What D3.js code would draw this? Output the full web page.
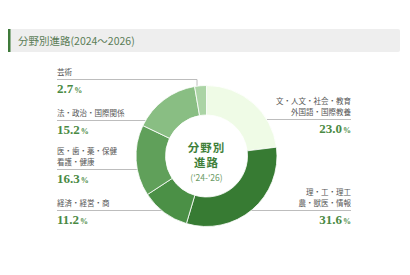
<!DOCTYPE html>
<html>
<head>
<meta charset="utf-8">
<script src="https://cdn.jsdelivr.net/npm/d3@7"></script>
<style>
  html, body { margin: 0; padding: 0; background: #fff; }
  svg { display: block; }
</style>
</head>
<body>
<svg id="main-svg" width="410" height="275"></svg>
<script>
(function() {

    // data
    var categories = [
        ["文・人文・社会・教育", "外国語・国際教養"],
        ["理・工・理工", "農・獣医・情報"],
        ["経済・経営・商"],
        ["医・歯・薬・保健", "看護・健康"],
        ["法・政治・国際関係"],
        ["芸術"]
    ];
    var values = [23.0, 31.6, 11.2, 16.3, 15.2, 2.7];
    var colors = ["#effbe6", "#377b33", "#4b9046", "#60a05a", "#89be83", "#abd4a5"];

    // label layout: side and y of the leader line
    var sides = ["R", "R", "L", "L", "L", "L"];
    var lineY = [119.5, 210.5, 210.5, 169.5, 120.5, 79.5];

    var svg = d3.select("#main-svg");
    var cx = 206.5, cy = 156, rOut = 70.5, rIn = 41;
    var leftX = 57, rightX = 351;

    // title bar
    svg.append("rect").attr("x", 8).attr("y", 29).attr("width", 392).attr("height", 23)
        .attr("rx", 2).attr("fill", "#eeeeee");
    svg.append("rect").attr("x", 8).attr("y", 29).attr("width", 2.5).attr("height", 23)
        .attr("fill", "#3f7a3a");
    svg.append("text").attr("x", 18).attr("y", 44.5)
        .attr("font-family", "'Noto Sans CJK JP', sans-serif")
        .attr("font-size", 10.5).attr("fill", "#5b7d57")
        .text("分野別進路(2024〜2026)");

    var pie = d3.pie().sort(null).value(function(d) { return d; });
    var arcs = pie(values);
    var arc = d3.arc().innerRadius(rIn).outerRadius(rOut);

    // leader lines
    var lines = svg.append("g").attr("stroke", "#bdbdbd").attr("stroke-width", 1).attr("fill", "none");
    arcs.forEach(function(a, i) {
        var y = lineY[i];
        var dy = y - cy;
        if (Math.abs(dy) < rOut - 2) {
            var dx = Math.sqrt(rOut * rOut - dy * dy);
            var x0 = sides[i] === "L" ? leftX : rightX;
            var x1 = sides[i] === "L" ? cx - dx + 2 : cx + dx - 2;
            lines.append("line").attr("x1", x0).attr("x2", x1).attr("y1", y).attr("y2", y);
        } else {
            // goes over the top then down into the slice
            var mid = (a.startAngle + a.endAngle) / 2;
            var vx = cx + rOut * Math.sin(mid) - 3.5;
            var vy = cy - Math.sqrt(rOut * rOut - (vx - cx) * (vx - cx)) + 2;
            lines.append("path").attr("d", "M" + leftX + "," + y + "H" + vx + "V" + vy);
        }
    });

    // donut
    svg.append("g").attr("transform", "translate(" + cx + "," + cy + ")")
        .selectAll("path")
        .data(arcs)
        .enter()
        .append("path")
        .attr("d", arc)
        .attr("fill", function(d, i) { return colors[i]; })
        .attr("stroke", "#ffffff")
        .attr("stroke-width", 0.8);

    // center text
    var center = svg.append("g").attr("text-anchor", "middle")
        .attr("font-family", "'Noto Sans CJK JP', sans-serif");
    center.append("text").attr("x", cx).attr("y", 151.5).attr("font-size", 11.5)
        .attr("font-weight", "bold").attr("fill", "#3f7f3a").attr("letter-spacing", 1).text("分野別");
    center.append("text").attr("x", cx).attr("y", 166.5).attr("font-size", 11.5)
        .attr("font-weight", "bold").attr("fill", "#3f7f3a").attr("letter-spacing", 1).text("進路");
    center.append("text").attr("x", cx).attr("y", 180.5).attr("font-size", 8.5)
        .attr("fill", "#6a9a64").text("('24-'26)");

    // side labels
    arcs.forEach(function(a, i) {
        var left = sides[i] === "L";
        var x = left ? leftX : rightX;
        var anchor = left ? "start" : "end";
        var y = lineY[i];
        var names = categories[i];
        names.forEach(function(n, j) {
            svg.append("text")
                .attr("x", x)
                .attr("y", y - 5 - (names.length - 1 - j) * 10.5)
                .attr("text-anchor", anchor)
                .attr("font-family", "'Noto Sans CJK JP', sans-serif")
                .attr("font-size", 7.5)
                .attr("fill", "#555555")
                .text(n);
        });
        var pct = svg.append("text")
            .attr("x", x)
            .attr("y", y + 13)
            .attr("text-anchor", anchor)
            .attr("font-family", "'Liberation Serif', serif")
            .attr("font-weight", "bold")
            .attr("font-size", 13)
            .attr("fill", "#4a8a44");
        pct.append("tspan").text(values[i].toFixed(1));
        pct.append("tspan").attr("font-size", 8).attr("dx", 1).text("%");
    });
})();
</script>
</body>
</html>
